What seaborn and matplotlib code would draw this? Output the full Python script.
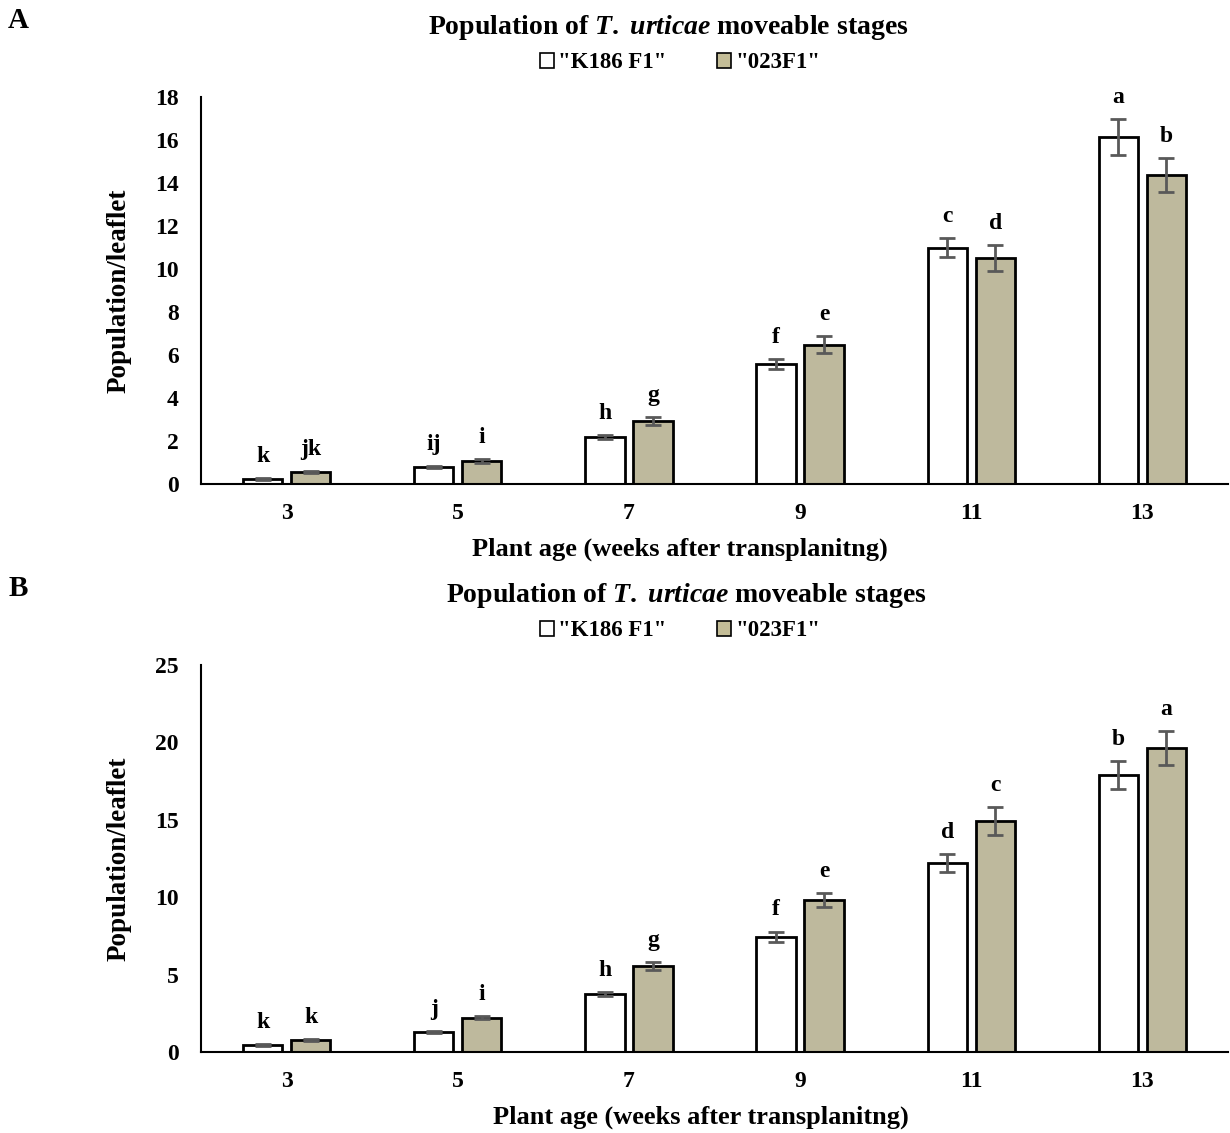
import seaborn as sns
import matplotlib.pyplot as plt
import pandas as pd

# 数据
ages = ['3', '5', '7', '9', '11', '13']
cultivars = ['"K186 F1"', '"023F1"']

a_k186 = [0.23, 0.79, 2.19, 5.58, 10.98, 16.14]
a_023 = [0.56, 1.07, 2.93, 6.47, 10.51, 14.37]
a_k186_se = [0.03, 0.05, 0.10, 0.25, 0.44, 0.84]
a_023_se = [0.03, 0.07, 0.18, 0.40, 0.60, 0.77]
a_k186_let = ['k', 'ij', 'h', 'f', 'c', 'a']
a_023_let = ['jk', 'i', 'g', 'e', 'd', 'b']

b_k186 = [0.45, 1.29, 3.75, 7.43, 12.20, 17.90]
b_023 = [0.78, 2.20, 5.56, 9.82, 14.92, 19.64]
b_k186_se = [0.04, 0.06, 0.15, 0.35, 0.60, 0.90]
b_023_se = [0.04, 0.10, 0.25, 0.45, 0.90, 1.10]
b_k186_let = ['k', 'j', 'h', 'f', 'd', 'b']
b_023_let = ['k', 'i', 'g', 'e', 'c', 'a']

colors = {'"K186 F1"': 'white', '"023F1"': '#C4BD97'}

sns.set_style('white')
plt.rcParams['font.family'] = ['Liberation Serif', 'DejaVu Serif']
plt.rcParams['font.weight'] = 'bold'
plt.rcParams['text.color'] = 'black'
plt.rcParams['axes.labelcolor'] = 'black'
plt.rcParams['xtick.color'] = 'black'
plt.rcParams['ytick.color'] = 'black'
plt.rcParams['mathtext.fontset'] = 'custom'
plt.rcParams['mathtext.it'] = 'Liberation Serif:italic:bold'
plt.rcParams['mathtext.rm'] = 'Liberation Serif:bold'

W, H = 1230, 1133
fig = plt.figure(figsize=(W / 100, H / 100), dpi=100)


def panel(top, k186, v023, se1, se2, let1, let2, ymax, ystep, letter, tx, lx, xlx):
    ax = fig.add_axes([201 / W, 1 - (top + 387) / H, 1027 / W, 387 / H])
    df = pd.DataFrame({
        'age': ages * 2,
        'cultivar': [cultivars[0]] * 6 + [cultivars[1]] * 6,
        'val': k186 + v023,
    })
    sns.barplot(data=df, x='age', y='val', hue='cultivar', order=ages,
                hue_order=cultivars, palette=colors, edgecolor='black',
                linewidth=2, width=0.56, gap=0.18, errorbar=None,
                legend=False, ax=ax)
    ses = [se1, se2]
    lets = [let1, let2]
    bars = list(ax.containers)
    for ci, cont in enumerate(bars):
        for j, p in enumerate(cont.patches):
            x = p.get_x() + p.get_width() / 2
            h = p.get_height()
            ax.errorbar(x, h, yerr=ses[ci][j], color='#595959', elinewidth=2,
                        capsize=6, capthick=2, zorder=5)
            ax.annotate(lets[ci][j], (x, h + ses[ci][j]), xytext=(0, 8),
                        textcoords='offset points', ha='center', va='bottom',
                        fontsize=17, fontweight='bold')
    ax.set_ylim(0, ymax)
    ax.set_yticks(range(0, ymax + 1, ystep))
    ax.set_xlim(-0.5, 5.5)
    for s in ['top', 'right']:
        ax.spines[s].set_visible(False)
    for s in ['left', 'bottom']:
        ax.spines[s].set_color('black')
        ax.spines[s].set_linewidth(1.5)
    ax.tick_params(axis='both', length=0, labelsize=17)
    ax.tick_params(axis='y', pad=16)
    ax.tick_params(axis='x', pad=14)
    for t in ax.get_xticklabels() + ax.get_yticklabels():
        t.set_fontweight('bold')
    ax.set_xlabel('Plant age (weeks after transplanitng)', fontsize=19,
                  fontweight='bold')
    ax.xaxis.set_label_coords((xlx - 201) / 1027, -65 / 387)
    ax.xaxis.label.set_va('center')
    ax.set_ylabel('Population/leaflet', fontsize=19.5, fontweight='bold')
    ax.yaxis.set_label_coords(-(201 - 119) / 1027, 0.5)
    ax.yaxis.label.set_va('center')
    fig.text(tx / W, 1 - (top - 69) / H, r'Population of $\mathit{T.}$ $\mathit{urticae}$ moveable stages',
             ha='center', va='center', fontsize=20, fontweight='bold')
    handles = [plt.Rectangle((0, 0), 1, 1, facecolor=colors[c], edgecolor='black',
                             linewidth=1.2) for c in cultivars]
    fig.legend(handles, cultivars, loc='center', bbox_to_anchor=(lx / W, 1 - (top - 34) / H),
               ncol=2, frameon=False, handlelength=0.6, handleheight=0.6,
               handletextpad=0.2, columnspacing=2.2, prop={'weight': 'bold', 'size': 16.5})
    fig.text(18 / W, 1 - (top - 77) / H, letter, ha='center', va='center',
             fontsize=21, fontweight='bold')
    return ax


panel(97, a_k186, a_023, a_k186_se, a_023_se, a_k186_let, a_023_let, 18, 2, 'A', 668, 680, 680)
panel(665, b_k186, b_023, b_k186_se, b_023_se, b_k186_let, b_023_let, 25, 5, 'B', 686, 680, 701)

fig.savefig('out.png', dpi=100)
